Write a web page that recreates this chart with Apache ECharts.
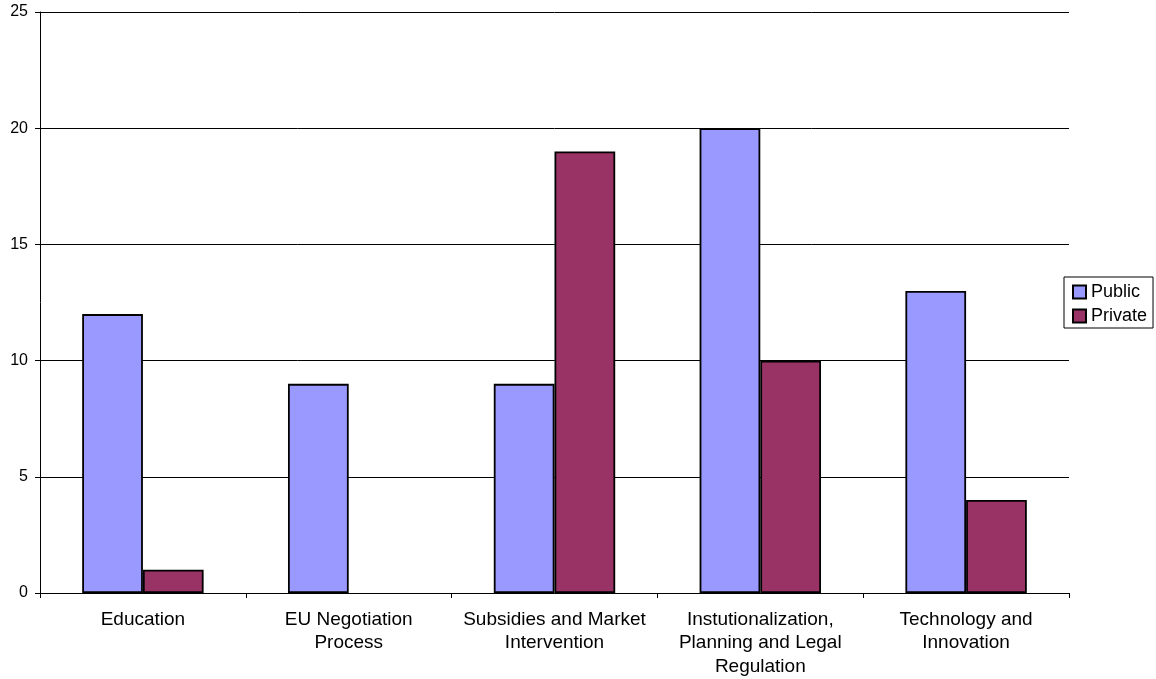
<!DOCTYPE html>
<html><head><meta charset="utf-8">
<script src="https://cdn.jsdelivr.net/npm/echarts@6/dist/echarts.min.js"></script>
<style>html,body{margin:0;padding:0;background:#fff}#c{width:1156px;height:679px}</style>
</head><body><div id="c"></div>
<script>
const categories = ["Education", "EU Negotiation\nProcess", "Subsidies and Market\nIntervention", "Instutionalization,\nPlanning and Legal\nRegulation", "Technology and\nInnovation"];
const publicValues = [12, 9, 9, 20, 13];
const privateValues = [1, 0, 19, 10, 4];
const yTicks = [0, 5, 10, 15, 20, 25];

// zero values are not drawn as bars in the reference
const hideZero = arr => arr.map(v => v === 0 ? '-' : v);

const chart = echarts.init(document.getElementById('c'));
const font = 'Liberation Sans, Arial, sans-serif';
chart.setOption({
  animation: false,
  grid: {left: 40, right: 87, top: 12, bottom: 86, containLabel: false},
  legend: {
    orient: 'vertical', left: 1064, top: 277,
    data: ['Public', 'Private'],
    itemWidth: 13, itemHeight: 13, itemGap: 6,
    borderColor: '#000', borderWidth: 1, padding: [6, 6, 3, 8],
    textStyle: {fontFamily: font, fontSize: 18, lineHeight: 18, color: '#000', padding: [0, 0, 0, 0]},
    icon: 'rect'
  },
  xAxis: {
    type: 'category', data: categories,
    axisLine: {lineStyle: {color: '#000', width: 1}},
    axisTick: {show: true, alignWithLabel: false, length: 5, lineStyle: {color: '#000'}},
    axisLabel: {fontFamily: font, fontSize: 19, color: '#000', margin: 15, lineHeight: 23.5, interval: 0}
  },
  yAxis: {
    type: 'value', min: 0, max: 25, interval: 5,
    axisLine: {show: true, lineStyle: {color: '#000', width: 1}},
    axisTick: {show: true, length: 5, lineStyle: {color: '#000'}},
    axisLabel: {fontFamily: font, fontSize: 16, color: '#000', margin: 12,
      formatter: v => yTicks.includes(v) ? String(v) : ''},
    splitLine: {lineStyle: {color: '#000', width: 1}}
  },
  series: [
    {name: 'Public', type: 'bar', data: hideZero(publicValues), barGap: '0%', barCategoryGap: '41%',
     itemStyle: {color: '#9999FF', borderColor: '#000', borderWidth: 1.8}},
    {name: 'Private', type: 'bar', data: hideZero(privateValues),
     itemStyle: {color: '#993366', borderColor: '#000', borderWidth: 1.8}}
  ]
});
</script></body></html>
